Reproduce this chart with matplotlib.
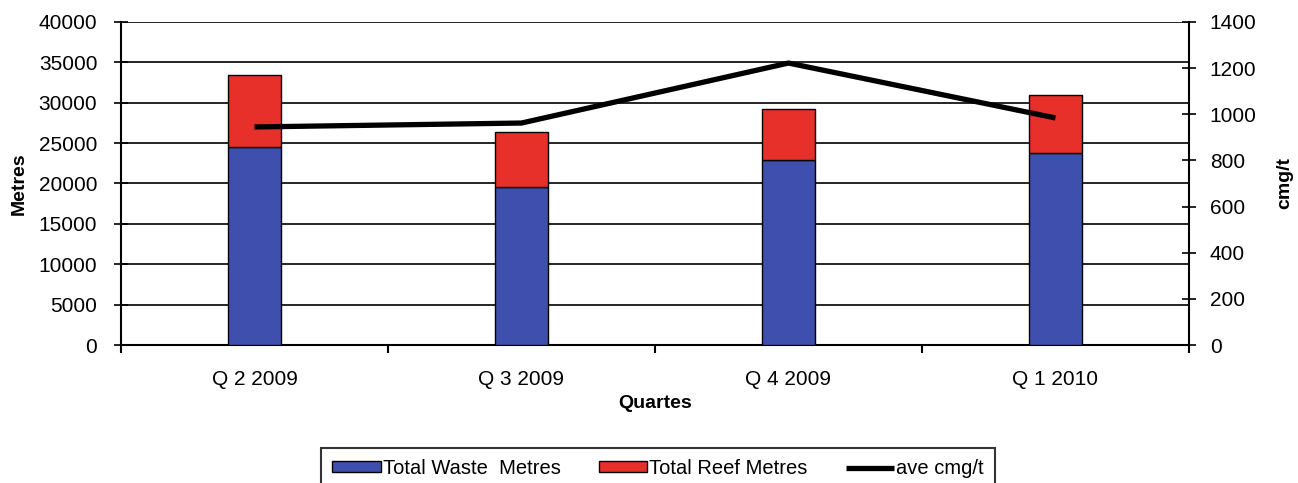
import matplotlib
matplotlib.use("Agg")
import matplotlib.pyplot as plt
import numpy as np

plt.rcParams['font.family'] = ['Liberation Sans', 'DejaVu Sans']

quarters = ["Q 2 2009", "Q 3 2009", "Q 4 2009", "Q 1 2010"]
waste_metres = [24500, 19600, 22900, 23800]
reef_metres = [8900, 6800, 6300, 7200]
ave_cmg_t = [945, 962, 1222, 984]

blue = "#3F4FAE"
red = "#E8302A"

fig = plt.figure(figsize=(12.98, 4.83), dpi=100)
ax = fig.add_axes([0.0932, 0.2857, 0.8228, 0.6688])
x = np.arange(len(quarters))
w = 0.195

ax.bar(x, waste_metres, width=w, color=blue, edgecolor="black", linewidth=1.0,
       label="Total Waste  Metres", zorder=3)
ax.bar(x, reef_metres, width=w, bottom=waste_metres, color=red, edgecolor="black",
       linewidth=1.0, label="Total Reef Metres", zorder=3)

ax.set_xlim(-0.5, len(quarters) - 0.5)
ax.set_ylim(0, 40000)
ax.set_yticks(np.arange(0, 40001, 5000))
ax.yaxis.grid(True, color="black", linewidth=1.2)
ax.set_axisbelow(True)

ax.set_xticks(x)
ax.set_xticklabels(quarters, fontsize=15)
ax.set_xticks(np.arange(-0.5, len(quarters), 1.0), minor=True)
ax.tick_params(axis="x", which="major", length=0, pad=18)
ax.tick_params(axis="x", which="minor", direction="out", length=6, width=1.5)
ax.tick_params(axis="y", direction="inout", length=10, width=1.2, labelsize=15, pad=12)

for s in ["top", "right"]:
    ax.spines[s].set_visible(False)
for s in ["left", "bottom"]:
    ax.spines[s].set_linewidth(1.5)

ax.set_ylabel("Metres", fontsize=14, fontweight="bold", labelpad=8)
ax.set_xlabel("Quartes", fontsize=14, fontweight="bold", labelpad=4)

ax2 = ax.twinx()
ax2.plot(x, ave_cmg_t, color="black", linewidth=3.8, label="ave cmg/t",
         solid_joinstyle="round", solid_capstyle="butt")
ax2.set_ylim(0, 1400)
ax2.set_yticks(np.arange(0, 1401, 200))
ax2.tick_params(axis="y", direction="inout", length=10, width=1.2, labelsize=15, pad=10)
for s in ["top", "left", "bottom"]:
    ax2.spines[s].set_visible(False)
ax2.spines["right"].set_linewidth(1.5)
ax2.set_ylabel("cmg/t", fontsize=14, fontweight="bold", labelpad=14)

h1, l1 = ax.get_legend_handles_labels()
h2, l2 = ax2.get_legend_handles_labels()
leg = fig.legend(h1 + h2, l1 + l2, loc="upper center", bbox_to_anchor=(0.507, 0.073),
                 ncol=3, fontsize=14.5, frameon=True, fancybox=False, handlelength=2.4,
                 handleheight=0.45, handletextpad=0.1, columnspacing=1.9,
                 borderpad=0.55, borderaxespad=0)
leg.get_frame().set_edgecolor("black")
leg.get_frame().set_linewidth(1.5)

fig.savefig("out.png", dpi=100)
